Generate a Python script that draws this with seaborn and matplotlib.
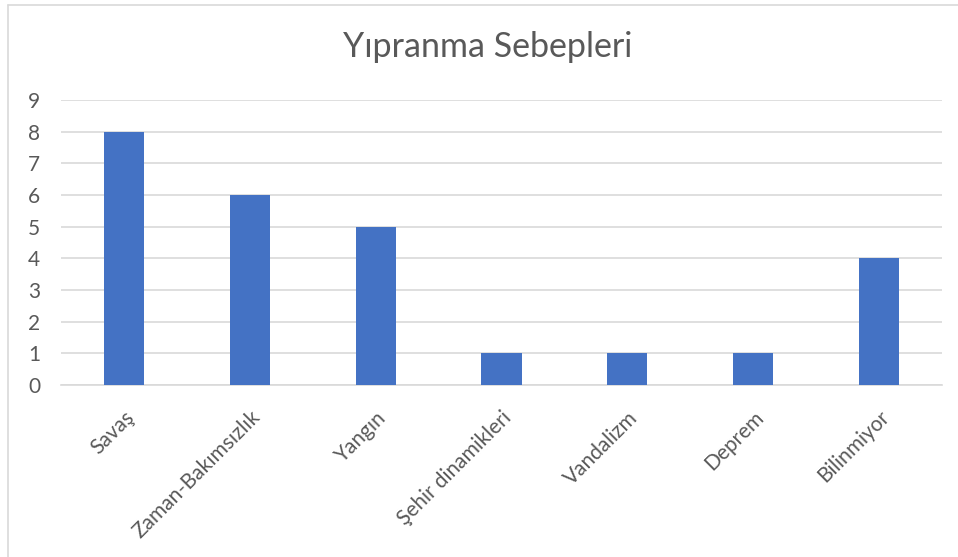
import matplotlib
matplotlib.use("Agg")
import matplotlib.pyplot as plt
import seaborn as sns
import pandas as pd
from matplotlib.lines import Line2D

categories = ["Savaş", "Zaman-Bakımsızlık", "Yangın", "Şehir dinamikleri", "Vandalizm", "Deprem", "Bilinmiyor"]
values = [8, 6, 5, 1, 1, 1, 4]
y_ticks = [0, 1, 2, 3, 4, 5, 6, 7, 8, 9]

df = pd.DataFrame({"cat": categories, "val": values})

sns.set_theme(style="white")
plt.rcParams["font.family"] = ["Lato", "DejaVu Sans"]

fig = plt.figure(figsize=(9.58, 5.57), dpi=100)
ax = fig.add_axes([61/958, 172/557, (942-61)/958, (385-100)/557])

sns.barplot(data=df, x="cat", y="val", color="#4472C4", width=0.32, ax=ax,
            saturation=1, zorder=3, linewidth=0)

ax.set_ylim(0, 9)
ax.set_xlim(-0.5, len(categories) - 0.5)
ax.set_yticks(y_ticks)
ax.yaxis.grid(True, color="#D9D9D9", linewidth=1.2, zorder=0)
ax.set_axisbelow(True)
for s in ["top", "right", "left"]:
    ax.spines[s].set_visible(False)
ax.spines["bottom"].set_color("#D9D9D9")
ax.spines["bottom"].set_linewidth(1.2)
ax.set_xlabel("")
ax.set_ylabel("")
ax.tick_params(axis="y", length=0, colors="#595959", labelsize=15, pad=15)
ax.tick_params(axis="x", length=0, colors="#595959", labelsize=15, pad=16)
for lbl in ax.get_xticklabels():
    lbl.set_rotation(45)
    lbl.set_ha("right")
    lbl.set_rotation_mode("anchor")

fig.text(488/958, 1 - 47/557, "Yıpranma Sebepleri", ha="center", va="center", fontsize=24.5, color="#595959")

# chart frame
fig.add_artist(Line2D([8/958, 8/958], [0, 1 - 5/557], transform=fig.transFigure, color="#D9D9D9", linewidth=1.2))
fig.add_artist(Line2D([8/958, 1], [1 - 5/557, 1 - 5/557], transform=fig.transFigure, color="#D9D9D9", linewidth=1.2))

fig.savefig("out.png", dpi=100)
